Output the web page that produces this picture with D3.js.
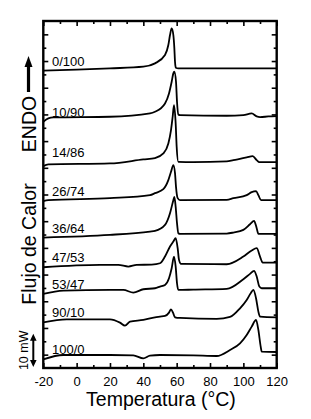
<!DOCTYPE html>
<html>
<head>
<meta charset="utf-8">
<script src="https://cdn.jsdelivr.net/npm/d3@7"></script>
<style>
body { margin: 0; background: #fff; }
text { font-family: "Liberation Sans", Arial, sans-serif; fill: #000; }
</style>
</head>
<body>
<svg width="311" height="419"></svg>
<script>
// DSC traces, heat flow in mW (offset per blend), temperature in C
const blends = ['0/100', '10/90', '14/86', '26/74', '36/64', '47/53', '53/47', '90/10', '100/0'];

const c0_100 = [[-20, 89.1], [0, 89.4], [20, 89.8], [40, 90.3], [47, 91.3], [53, 93.8], [55, 96.8], [56, 99.8], [57, 101.8],
    [58, 99.8], [58.6, 95.9], [59, 91.8], [59.5, 90.0], [61, 89.8], [80, 89.8], [120, 89.8]];
const c10_90 = [[-20, 73.8], [-17, 74.8], [-14, 75.1], [20, 75.3], [44, 76.3], [47, 76.8], [53, 79.3], [55.4, 82.3], [57, 85.8],
    [58, 88.3], [58.6, 88.8], [59.6, 85.8], [60.2, 79.8], [61, 76.0], [62, 75.8], [90, 75.6], [100, 75.8], [105, 76.3],
    [108, 75.4], [110, 75.2], [115, 75.4], [120, 75.5]];
const c14_86 = [[-20, 60.5], [-17, 61.0], [20, 61.3], [40, 62.5], [47, 62.9], [52, 64.3], [55, 67.3], [56.6, 71.3], [57.6, 75.3],
    [58.4, 78.8], [59.4, 73.3], [60, 66.3], [61, 61.8], [70, 61.7], [90, 61.9], [94, 62.3], [102, 63.1], [105.6, 63.5],
    [108, 62.3], [109.6, 61.7], [120, 61.7]];
const c26_74 = [[-20, 50.0], [-17, 50.3], [20, 50.9], [44, 51.8], [47, 52.4], [52, 53.6], [55, 56.3], [56.6, 58.8], [58, 60.8],
    [59, 58.4], [59.6, 54.3], [60.6, 50.9], [62, 50.3], [90, 50.4], [94, 50.9], [102, 51.8], [105, 52.7], [107.6, 53.0],
    [109, 51.8], [110.6, 50.3], [120, 50.3]];
const c36_64 = [[-20, 39.1], [20, 39.9], [44, 40.9], [47, 41.1], [53, 42.9], [56, 46.4], [58, 50.3], [58.6, 51.3], [59.4, 48.3],
    [60.2, 43.4], [61, 40.4], [62, 40.2], [90, 40.3], [94, 40.6], [100, 41.4], [104, 43.1], [106.4, 44.1], [108, 41.9],
    [109, 40.2], [120, 40.2]];
const c47_53 = [[-20, 30.2], [14, 30.9], [25, 30.9], [31, 30.4], [36, 30.9], [45, 31.0], [50, 31.4], [53, 33.4], [56, 36.4],
    [58, 37.9], [59.4, 38.9], [60.6, 35.9], [61.4, 32.4], [62.6, 31.2], [90, 31.1], [100, 33.4], [105, 35.2], [108, 35.9],
    [110, 33.4], [111.6, 31.6], [120, 31.6]];
const c53_47 = [[-20, 22.2], [-8, 23.2], [20, 23.4], [28, 23.4], [34, 22.6], [40, 23.6], [47, 23.9], [50, 24.4], [53, 24.9],
    [55.4, 26.9], [57, 29.9], [58.4, 33.4], [59.4, 30.4], [60.2, 25.4], [61, 23.4], [70, 23.5], [90, 23.7], [100, 26.6],
    [104, 28.2], [106.4, 29.1], [108, 27.4], [109.6, 24.4], [111, 23.9], [120, 23.9]];
const c90_10 = [[-20, 13.7], [-6, 14.6], [20, 14.6], [26, 13.6], [29, 12.7], [32, 13.9], [40, 14.4], [47, 15.2], [50, 15.4],
    [53, 15.6], [55.4, 16.6], [56.6, 17.6], [57.8, 16.6], [59, 15.2], [62, 15.0], [84, 14.7], [92, 15.3], [98, 17.9],
    [102, 20.4], [104.4, 22.4], [106, 23.4], [107.6, 20.9], [109, 16.9], [110, 15.4], [120, 15.2]];
const c100_0 = [[-20, 2.6], [-8, 3.9], [20, 3.9], [34, 3.8], [40, 2.9], [44, 3.7], [50, 3.9], [70, 3.8], [84, 3.6], [92, 5.4],
    [98, 7.4], [102, 9.9], [105, 12.4], [107.6, 14.4], [109, 11.4], [110.4, 6.4], [111, 4.9], [120, 4.8]];

const series = [c0_100, c10_90, c14_86, c26_74, c36_64, c47_53, c53_47, c90_10, c100_0];
const xTicks = [-20, 0, 20, 40, 60, 80, 100, 120];
const xMinor = [-10, 10, 30, 50, 70, 90, 110];

const svg = d3.select('svg');
const x = d3.scaleLinear().domain([-20, 120]).range([43.3, 276.7]);
const y = d3.scaleLinear().domain([0, 104]).range([368, 21]);

const yMajor = d3.range(4, 104, 8);
const yMinor = d3.range(8, 104, 8);

// ticks all point inwards
const addAxis = (axis, tr) => {
    const g = svg.append('g').attr('transform', tr).call(axis);
    g.select('.domain').remove();
    g.selectAll('line').attr('stroke', '#000').attr('stroke-width', 1.6);
    return g;
};
const bottom = addAxis(d3.axisBottom(x).tickValues(xTicks).tickSizeInner(-5).tickSizeOuter(0).tickPadding(9)
    .tickFormat(d => String(d)), 'translate(0,368)');
bottom.selectAll('text').attr('font-size', 13).attr('font-family', '"Liberation Sans", Arial, sans-serif');
addAxis(d3.axisBottom(x).tickValues(xMinor).tickSize(-3).tickFormat(''), 'translate(0,368)');
addAxis(d3.axisTop(x).tickValues(xTicks).tickSize(-5).tickFormat(''), 'translate(0,21)');
addAxis(d3.axisTop(x).tickValues(xMinor).tickSize(-3).tickFormat(''), 'translate(0,21)');
addAxis(d3.axisLeft(y).tickValues(yMajor).tickSize(-5).tickFormat(''), 'translate(43.3,0)');
addAxis(d3.axisLeft(y).tickValues(yMinor).tickSize(-3).tickFormat(''), 'translate(43.3,0)');
addAxis(d3.axisRight(y).tickValues(yMajor).tickSize(-5).tickFormat(''), 'translate(276.7,0)');
addAxis(d3.axisRight(y).tickValues(yMinor).tickSize(-3).tickFormat(''), 'translate(276.7,0)');

svg.append('rect')
    .attr('x', x(-20)).attr('y', y(104))
    .attr('width', x(120) - x(-20)).attr('height', y(0) - y(104))
    .attr('fill', 'none').attr('stroke', '#000').attr('stroke-width', 2.4);

const line = d3.line()
    .x(d => x(d[0]))
    .y(d => y(d[1]))
    .curve(d3.curveMonotoneX);

svg.append('g').selectAll('path')
    .data(series)
    .join('path')
    .attr('d', line)
    .attr('fill', 'none')
    .attr('stroke', '#000')
    .attr('stroke-width', 1.8)
    .attr('stroke-linejoin', 'round');

// blend labels sit just above the left end of each trace
const nudge = {'14/86': 4};
svg.append('g').selectAll('text')
    .data(blends)
    .join('text')
    .attr('x', 52)
    .attr('y', (d, i) => y(series[i][0][1]) - 5 - (nudge[d] || 0))
    .attr('font-size', 13)
    .text(d => d);

svg.append('text')
    .attr('x', 161).attr('y', 406)
    .attr('text-anchor', 'middle')
    .attr('font-size', 19.5)
    .text('Temperatura (°C)');

svg.append('text')
    .attr('transform', 'translate(36,244) rotate(-90)')
    .attr('text-anchor', 'middle')
    .attr('font-size', 19.5)
    .text('Flujo de Calor');

svg.append('text')
    .attr('transform', 'translate(35.5,124) rotate(-90)')
    .attr('text-anchor', 'middle')
    .attr('font-size', 19.5)
    .text('ENDO');

// ENDO arrow
svg.append('line')
    .attr('x1', 28.5).attr('x2', 28.5).attr('y1', 92).attr('y2', 64)
    .attr('stroke', '#000').attr('stroke-width', 3.2);
svg.append('path')
    .attr('d', 'M24.5,67 L32.5,67 L28.5,56 Z')
    .attr('fill', '#000');

// 10 mW scale bar
const yb0 = y(0.3), yb1 = y(10.3);
svg.append('line')
    .attr('x1', 33.3).attr('x2', 33.3).attr('y1', yb0 - 5).attr('y2', yb1 + 5)
    .attr('stroke', '#000').attr('stroke-width', 2);
svg.append('path')
    .attr('d', `M30,${yb1 + 7} L36.6,${yb1 + 7} L33.3,${yb1} Z M30,${yb0 - 7} L36.6,${yb0 - 7} L33.3,${yb0} Z`)
    .attr('fill', '#000');
svg.append('text')
    .attr('transform', `translate(28,${(yb0 + yb1) / 2}) rotate(-90)`)
    .attr('text-anchor', 'middle')
    .attr('font-size', 12.5)
    .text('10 mW');
</script>
</body>
</html>
